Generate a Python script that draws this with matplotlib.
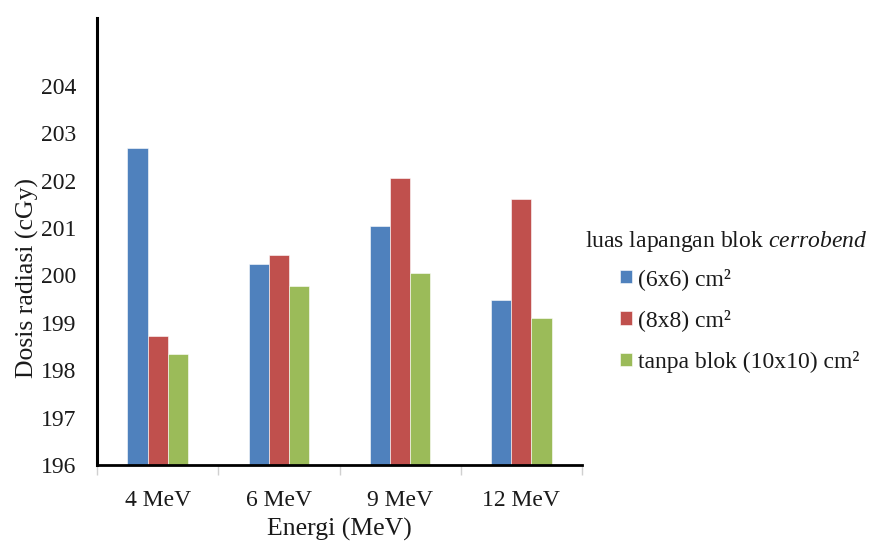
import numpy as np
import matplotlib
matplotlib.use("Agg")
import matplotlib.pyplot as plt
from matplotlib.ticker import FixedLocator

plt.rcParams['font.family'] = ['Liberation Serif', 'DejaVu Serif']
plt.rcParams['mathtext.fontset'] = 'custom'
plt.rcParams['mathtext.rm'] = 'Liberation Serif'
plt.rcParams['mathtext.it'] = 'Liberation Serif:italic'

# data
energies = ["4 MeV", "6 MeV", "9 MeV", "12 MeV"]
blok_6x6 = [202.68, 200.25, 201.05, 199.48]
blok_8x8 = [198.72, 200.43, 202.06, 201.62]
tanpa_blok = [198.34, 199.78, 200.06, 199.10]
series_labels = ["(6x6) cm²", "(8x8) cm²", "tanpa blok (10x10) cm²"]
colors = ["#4F81BD", "#C0504D", "#9BBB59"]
y_ticks = [196, 197, 198, 199, 200, 201, 202, 203, 204]

fig = plt.figure(figsize=(8.73, 5.43), dpi=100)
ax = fig.add_axes([97 / 873, 1 - 465 / 543, 485 / 873, 447 / 543])

x = np.arange(len(energies))
w = 1 / 6
base = 196
handles = []
for i, (vals, c) in enumerate(zip([blok_6x6, blok_8x8, tanpa_blok], colors)):
    vals = np.array(vals)
    b = ax.bar(x + (i - 1) * w, vals - base, width=w, bottom=base, color=c,
               edgecolor='white', linewidth=0.4, label=series_labels[i])
    handles.append(b)

ax.set_xlim(-0.5, len(energies) - 0.5)
ax.set_ylim(196, 205.43)
ax.set_yticks(y_ticks)
ax.set_xticks(x)
ax.set_xticklabels(energies)
ax.xaxis.set_minor_locator(FixedLocator(np.arange(-0.5, len(energies), 1)))

ax.tick_params(axis='y', length=0, pad=15, labelsize=17, labelcolor='#1a1a1a')
ax.tick_params(axis='x', which='major', length=0, pad=18, labelsize=17, labelcolor='#1a1a1a')
ax.tick_params(axis='x', which='minor', length=7, width=1, color='#d0d0d0', direction='out')

for s in ['top', 'right']:
    ax.spines[s].set_visible(False)
ax.spines['left'].set_linewidth(2.2)
ax.spines['bottom'].set_linewidth(2.0)
ax.spines['left'].set_color('black')
ax.spines['bottom'].set_color('black')

ax.set_xlabel("Energi (MeV)", fontsize=18.5, color='#1a1a1a', labelpad=5)
ax.set_ylabel("Dosis radiasi (cGy)", fontsize=18.5, color='#1a1a1a')
ax.yaxis.set_label_coords(-0.12, 0.418)

# legend title with italic word
fig.text(585 / 873, 1 - 242 / 543, r"luas lapangan blok $\mathit{cerrobend}$",
         fontsize=17, color='#1a1a1a', ha='left', va='center')
leg = fig.legend(handles=handles, loc='upper left',
                 bbox_to_anchor=(620 / 873, 1 - 268 / 543), frameon=False,
                 fontsize=17, borderpad=0, borderaxespad=0,
                 handlelength=0.5, handleheight=0.5, handletextpad=0.25,
                 labelspacing=0.82)
for t in leg.get_texts():
    t.set_color('#1a1a1a')

fig.savefig("out.png", dpi=100)
